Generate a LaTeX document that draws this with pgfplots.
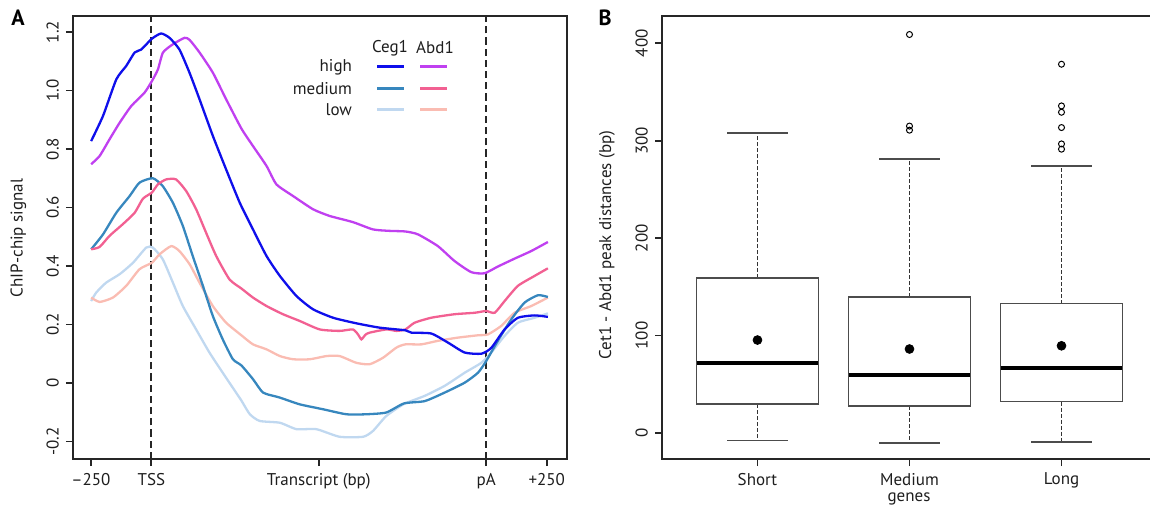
\documentclass[border=0pt]{standalone}
\usepackage{fontspec}
\setmainfont{PT Sans}
\usepackage{pgfplots}
\usepackage{pgfplotstable}
\pgfplotsset{compat=1.18}

\definecolor{ceghigh}{RGB}{15,15,235}
\definecolor{cegmed}{RGB}{55,135,190}
\definecolor{ceglow}{RGB}{192,216,240}
\definecolor{abdhigh}{RGB}{192,64,240}
\definecolor{abdmed}{RGB}{242,96,146}
\definecolor{abdlow}{RGB}{250,188,178}
\definecolor{txt}{RGB}{30,30,30}

\pgfplotstableread{
x y
-249 0.827
-200 0.913
-145 1.038
-104 1.084
-69 1.13
-42 1.14
2 1.177
40 1.195
75 1.18
116 1.14
158 1.06
199 0.97
254 0.845
309 0.73
366 0.615
420 0.525
476 0.434
531 0.366
600 0.297
668 0.252
751 0.223
847 0.204
944 0.189
1050 0.18
1075 0.172
1157 0.169
1226 0.138
1295 0.104
1364 0.10
1405 0.12
1460 0.183
1515 0.223
1584 0.231
1639 0.226
}\ceghigh

\pgfplotstableread{
x y
-249 0.748
-214 0.776
-173 0.833
-131 0.89
-83 0.947
-28 0.993
2 1.032
27 1.072
48 1.13
89 1.158
137 1.18
158 1.173
199 1.13
254 1.061
309 0.97
372 0.87
420 0.81
476 0.742
517 0.679
586 0.639
668 0.594
737 0.571
833 0.55
916 0.525
985 0.52
1050 0.518
1102 0.508
1184 0.468
1253 0.417
1322 0.379
1377 0.375
1432 0.398
1501 0.425
1570 0.451
1639 0.482
}\abdhigh

\pgfplotstableread{
x y
-249 0.457
-200 0.508
-145 0.582
-90 0.639
-49 0.685
6 0.70
47 0.673
89 0.616
130 0.537
171 0.434
213 0.332
254 0.229
295 0.149
337 0.081
372 0.06
420 0.013
462 -0.033
531 -0.05
613 -0.073
710 -0.09
806 -0.107
889 -0.107
971 -0.101
1044 -0.07
1130 -0.062
1212 -0.033
1295 0.001
1350 0.035
1384 0.075
1432 0.144
1488 0.218
1543 0.275
1598 0.30
1639 0.294
}\cegmed

\pgfplotstableread{
x y
-249 0.457
-214 0.465
-173 0.503
-118 0.543
-69 0.582
-35 0.63
2 0.651
27 0.679
61 0.696
102 0.696
144 0.656
185 0.594
226 0.514
268 0.434
323 0.354
372 0.323
420 0.292
476 0.263
544 0.235
613 0.212
696 0.183
778 0.178
833 0.183
855 0.165
868 0.149
885 0.165
902 0.172
971 0.183
1013 0.178
1050 0.183
1088 0.206
1157 0.223
1253 0.235
1336 0.24
1384 0.246
1419 0.24
1460 0.28
1515 0.332
1584 0.366
1639 0.392
}\abdmed

\pgfplotstableread{
x y
-249 0.28
-228 0.309
-187 0.343
-131 0.372
-76 0.411
-21 0.463
6 0.463
47 0.423
89 0.343
130 0.263
185 0.183
240 0.104
295 0.035
350 -0.033
372 -0.06
407 -0.107
448 -0.13
531 -0.136
600 -0.158
682 -0.158
778 -0.184
875 -0.184
916 -0.164
971 -0.113
1044 -0.072
1130 -0.044
1212 -0.01
1295 0.035
1364 0.069
1405 0.104
1460 0.161
1515 0.206
1584 0.223
1639 0.238
}\ceglow

\pgfplotstableread{
x y
-249 0.292
-214 0.277
-159 0.292
-104 0.332
-49 0.389
2 0.411
34 0.44
82 0.468
116 0.451
158 0.406
199 0.343
254 0.263
309 0.206
372 0.163
420 0.132
476 0.115
531 0.092
586 0.081
655 0.081
724 0.092
778 0.092
847 0.069
902 0.064
957 0.086
1013 0.121
1050 0.132
1116 0.132
1184 0.144
1267 0.155
1350 0.163
1391 0.166
1446 0.195
1501 0.24
1570 0.263
1639 0.292
}\abdlow

\begin{document}
\begin{tikzpicture}[font=\fontsize{8.5}{10}\selectfont, text=txt]
\useasboundingbox (0,0) rectangle (575pt,254.5pt);

% ---------------- Panel A ----------------
\begin{axis}[
  at={(36.5pt,25pt)}, anchor=south west,
  scale only axis, width=247pt, height=221.5pt,
  xmin=-324, xmax=1718, ymin=-0.26, ymax=1.2547,
  axis line style={line width=1.3pt, black!85},
  tick align=outside, tick pos=left,
  major tick length=3.5pt,
  every tick/.style={black!85, line width=0.9pt},
  xtick={-250,0,692,1384,1634},
  xticklabels={--250,TSS,Transcript (bp),pA,+250},
  ytick={-0.2,0,0.2,0.4,0.6,0.8,1.0,1.2},
  yticklabels={-0.2,0,0.2,0.4,0.6,0.8,1.0,1.2},
  yticklabel style={rotate=90, anchor=south},
  curve/.style={line width=1.15pt, smooth, tension=0.35},
]
\addplot[black!85, line width=1pt, dash pattern=on 3.6pt off 2pt] coordinates {(0,-0.26) (0,1.2547)};
\addplot[black!85, line width=1pt, dash pattern=on 3.6pt off 2pt] coordinates {(1384,-0.26) (1384,1.2547)};
\addplot[ceglow, curve] table {\ceglow};
\addplot[abdlow, curve] table {\abdlow};
\addplot[cegmed, curve] table {\cegmed};
\addplot[abdmed, curve] table {\abdmed};
\addplot[abdhigh, curve] table {\abdhigh};
\addplot[ceghigh, curve] table {\ceghigh};
\end{axis}

% annotations (px coordinates, origin top-left)
\begin{scope}[x=0.5pt, y=-0.5pt, shift={(0pt,254.5pt)}]
  \node[rotate=90] at (18.5,238) {ChIP-chip signal};
  \node[rotate=90] at (607,245) {Cet1 - Abd1 peak distances (bp)};
  \node at (909,499) {genes};
  \node[anchor=center] at (390,48) {Ceg1};
  \node[anchor=center] at (435,48) {Abd1};
  \node[anchor=east] at (359,67.5) {high};
  \node[anchor=east] at (359,89) {medium};
  \node[anchor=east] at (359,109.5) {low};
  \draw[ceghigh, line width=1.5pt] (377,66.7) -- (404,66.7);
  \draw[cegmed, line width=1.5pt] (377,88.7) -- (404,88.7);
  \draw[ceglow, line width=1.5pt] (377,109.3) -- (404,109.3);
  \draw[abdhigh, line width=1.5pt] (420,66.7) -- (447,66.7);
  \draw[abdmed, line width=1.5pt] (420,88.7) -- (447,88.7);
  \draw[abdlow, line width=1.5pt] (420,109.3) -- (447,109.3);
  \node[font=\bfseries\fontsize{11}{12}\selectfont, text=black] at (18,18) {A};
  \node[font=\bfseries\fontsize{11}{12}\selectfont, text=black] at (605,18) {B};
\end{scope}

% ---------------- Panel B ----------------
\begin{axis}[
  at={(331pt,25pt)}, anchor=south west,
  scale only axis, width=245.5pt, height=221.5pt,
  xmin=0.372, xmax=3.602, ymin=-26.7, ymax=428,
  axis line style={line width=1.3pt, black!85},
  tick align=outside, tick pos=left,
  major tick length=3.5pt,
  every tick/.style={black!85, line width=0.9pt},
  xtick={1,2,3},
  xticklabels={Short,Medium,Long},
  ytick={0,100,200,300,400},
  yticklabels={0,100,200,300,400},
  yticklabel style={rotate=90, anchor=south},
  whisk/.style={black!80, line width=0.6pt, dash pattern=on 2pt off 1pt},
  cap/.style={black!70, line width=0.7pt},
  boxs/.style={fill=white, draw=black!70, line width=0.7pt},
  med/.style={black, line width=1.6pt},
]
% Short: lw -7.9, lq 29.7, med 71.8, uq 159, uw 308
\addplot[whisk] coordinates {(1,29.7) (1,-7.9)};
\addplot[whisk] coordinates {(1,159) (1,308)};
\addplot[cap] coordinates {(0.8,-7.9) (1.2,-7.9)};
\addplot[cap] coordinates {(0.8,308) (1.2,308)};
\addplot[boxs] coordinates {(0.6,29.7) (1.4,29.7) (1.4,159) (0.6,159)} -- cycle;
\addplot[med] coordinates {(0.6,71.8) (1.4,71.8)};
% Medium: lw -10.3, lq 27.7, med 59.5, uq 139.5, uw 281.3
\addplot[whisk] coordinates {(2,27.7) (2,-10.3)};
\addplot[whisk] coordinates {(2,139.5) (2,281.3)};
\addplot[cap] coordinates {(1.8,-10.3) (2.2,-10.3)};
\addplot[cap] coordinates {(1.8,281.3) (2.2,281.3)};
\addplot[boxs] coordinates {(1.6,27.7) (2.4,27.7) (2.4,139.5) (1.6,139.5)} -- cycle;
\addplot[med] coordinates {(1.6,59.5) (2.4,59.5)};
% Long: lw -9.2, lq 32.1, med 66.7, uq 132.6, uw 274
\addplot[whisk] coordinates {(3,32.1) (3,-9.2)};
\addplot[whisk] coordinates {(3,132.6) (3,274)};
\addplot[cap] coordinates {(2.8,-9.2) (3.2,-9.2)};
\addplot[cap] coordinates {(2.8,274) (3.2,274)};
\addplot[boxs] coordinates {(2.6,32.1) (3.4,32.1) (3.4,132.6) (2.6,132.6)} -- cycle;
\addplot[med] coordinates {(2.6,66.7) (3.4,66.7)};
% outliers
\addplot[only marks, mark=o, mark size=1.5pt, black, mark options={line width=0.5pt}]
  coordinates {(2,409) (2,315) (2,310.8) (3,378.5) (3,335.7) (3,329.2) (3,313.5) (3,296.7) (3,291.3)};
% means
\addplot[only marks, mark=*, mark size=2.2pt, black]
  coordinates {(1,95.4) (2,86.2) (3,89.5)};
\end{axis}
\end{tikzpicture}
\end{document}
